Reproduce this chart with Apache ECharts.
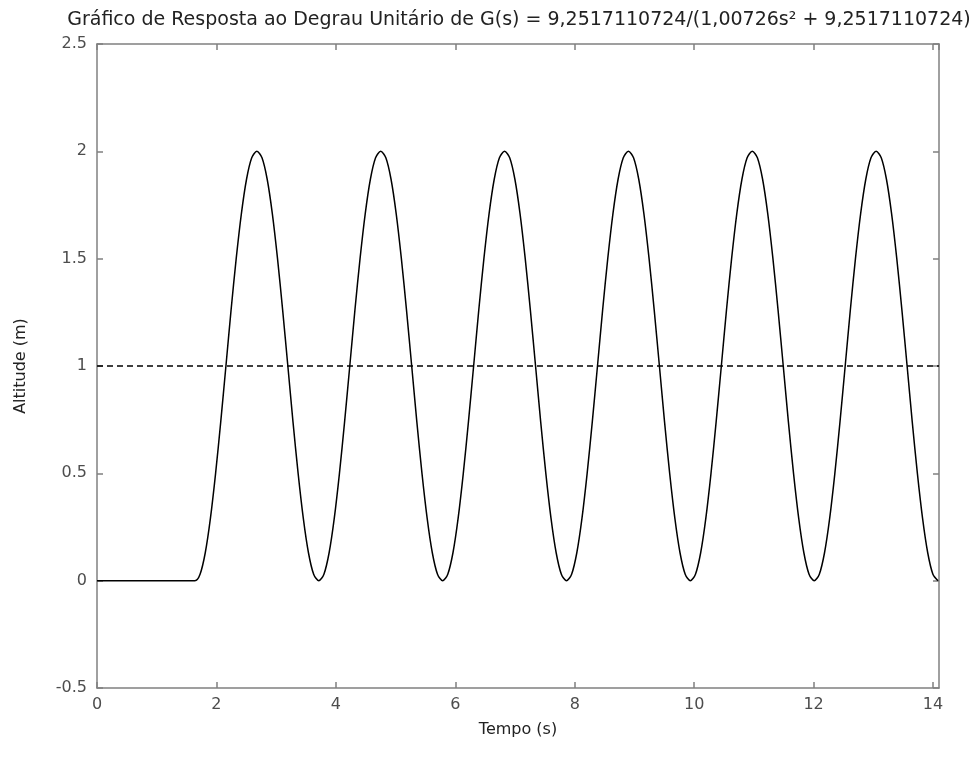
<!DOCTYPE html>
<html>
<head>
<meta charset="utf-8">
<script src="https://cdn.jsdelivr.net/npm/echarts@6/dist/echarts.min.js"></script>
<style>
html, body { margin: 0; padding: 0; background: #fff; }
#chart { width: 975px; height: 759px; }
</style>
</head>
<body>
<div id="chart"></div>
<script>
// tempo (s)
var tempo = [0,
    1.640, 1.726, 1.813, 1.899, 1.986, 2.072, 2.159, 2.245, 2.331, 2.418, 2.504, 2.591,
    2.677, 2.763, 2.850, 2.936, 3.023, 3.109, 3.196, 3.282, 3.368, 3.455, 3.541, 3.628,
    3.714, 3.800, 3.887, 3.973, 4.060, 4.146, 4.233, 4.319, 4.405, 4.492, 4.578, 4.665,
    4.751, 4.837, 4.924, 5.010, 5.097, 5.183, 5.270, 5.356, 5.442, 5.529, 5.615, 5.702,
    5.788, 5.874, 5.961, 6.047, 6.134, 6.220, 6.307, 6.393, 6.479, 6.566, 6.652, 6.739,
    6.825, 6.911, 6.998, 7.084, 7.171, 7.257, 7.344, 7.430, 7.516, 7.603, 7.689, 7.776,
    7.862, 7.948, 8.035, 8.121, 8.208, 8.294, 8.381, 8.467, 8.553, 8.640, 8.726, 8.813,
    8.899, 8.985, 9.072, 9.158, 9.245, 9.331, 9.418, 9.504, 9.590, 9.677, 9.763, 9.850,
    9.936, 10.022, 10.109, 10.195, 10.282, 10.368, 10.455, 10.541, 10.627, 10.714, 10.800, 10.887,
    10.973, 11.059, 11.146, 11.232, 11.319, 11.405, 11.492, 11.578, 11.664, 11.751, 11.837, 11.924,
    12.010, 12.096, 12.183, 12.269, 12.356, 12.442, 12.529, 12.615, 12.701, 12.788, 12.874, 12.961,
    13.047, 13.133, 13.220, 13.306, 13.393, 13.479, 13.566, 13.652, 13.738, 13.825, 13.911, 13.998,
    14.084];
// altitude (m)
var altitude = [0,
    0, 0.03, 0.13, 0.29, 0.5, 0.74, 1, 1.26, 1.5, 1.71, 1.87, 1.97,
    2, 1.97, 1.87, 1.71, 1.5, 1.26, 1, 0.74, 0.5, 0.29, 0.13, 0.03,
    0, 0.03, 0.13, 0.29, 0.5, 0.74, 1, 1.26, 1.5, 1.71, 1.87, 1.97,
    2, 1.97, 1.87, 1.71, 1.5, 1.26, 1, 0.74, 0.5, 0.29, 0.13, 0.03,
    0, 0.03, 0.13, 0.29, 0.5, 0.74, 1, 1.26, 1.5, 1.71, 1.87, 1.97,
    2, 1.97, 1.87, 1.71, 1.5, 1.26, 1, 0.74, 0.5, 0.29, 0.13, 0.03,
    0, 0.03, 0.13, 0.29, 0.5, 0.74, 1, 1.26, 1.5, 1.71, 1.87, 1.97,
    2, 1.97, 1.87, 1.71, 1.5, 1.26, 1, 0.74, 0.5, 0.29, 0.13, 0.03,
    0, 0.03, 0.13, 0.29, 0.5, 0.74, 1, 1.26, 1.5, 1.71, 1.87, 1.97,
    2, 1.97, 1.87, 1.71, 1.5, 1.26, 1, 0.74, 0.5, 0.29, 0.13, 0.03,
    0, 0.03, 0.13, 0.29, 0.5, 0.74, 1, 1.26, 1.5, 1.71, 1.87, 1.97,
    2, 1.97, 1.87, 1.71, 1.5, 1.26, 1, 0.74, 0.5, 0.29, 0.13, 0.03,
    0];
// referencia (degrau unitario)
var refTempo = [0, 14.1];
var refValor = [1, 1];

var xTicks = [0, 2, 4, 6, 8, 10, 12, 14];
var yTicks = [-0.5, 0, 0.5, 1, 1.5, 2, 2.5];

var chart = echarts.init(document.getElementById('chart'));

var resposta = tempo.map(function (t, i) { return [t, altitude[i]]; });
var referencia = refTempo.map(function (t, i) { return [t, refValor[i]]; });

var axisGray = '#808080';
var labelGray = '#4d4d4d';
var fontFam = '"DejaVu Sans", Verdana, sans-serif';

function eixoX(pos, show) {
    return {
        type: 'value', position: pos, min: 0, max: 14.1, interval: 2,
        axisLine: { show: true, onZero: false, lineStyle: { color: axisGray, width: 1.5 } },
        axisTick: { show: true, inside: true, length: 6, lineStyle: { color: axisGray, width: 1.5 } },
        axisLabel: { show: show, color: labelGray, fontSize: 16, fontFamily: fontFam, margin: 9, showMaxLabel: false,
            formatter: function (v) { return xTicks.indexOf(v) >= 0 ? String(v) : ''; } },
        splitLine: { show: false },
        name: show ? 'Tempo (s)' : '', nameLocation: 'middle', nameGap: 34,
        nameTextStyle: { color: '#222', fontSize: 16, fontFamily: fontFam }
    };
}
function eixoY(pos, show) {
    return {
        type: 'value', position: pos, min: -0.5, max: 2.5, interval: 0.5,
        axisLine: { show: true, onZero: false, lineStyle: { color: axisGray, width: 1.5 } },
        axisTick: { show: true, inside: true, length: 6, lineStyle: { color: axisGray, width: 1.5 } },
        axisLabel: { show: show, color: labelGray, fontSize: 16, fontFamily: fontFam, margin: 10,
            formatter: function (v) { return yTicks.indexOf(v) >= 0 ? String(v) : ''; } },
        splitLine: { show: false },
        name: show ? 'Altitude (m)' : '', nameLocation: 'middle', nameGap: 68, nameRotate: 90,
        nameTextStyle: { color: '#222', fontSize: 16, fontFamily: fontFam }
    };
}

var option = {
    backgroundColor: '#fff',
    animation: false,
    title: {
        text: 'Gráfico de Resposta ao Degrau Unitário de G(s) = 9,2517110724/(1,00726s² + 9,2517110724)',
        left: 514, textAlign: 'center', top: 6,
        textStyle: { color: '#222', fontSize: 19, fontWeight: 'normal', fontFamily: fontFam }
    },
    grid: { left: 97, right: 36, top: 44, bottom: 71 },
    xAxis: [eixoX('bottom', true), eixoX('top', false)],
    yAxis: [eixoY('left', true), eixoY('right', false)],
    series: [
        {
            type: 'line', data: resposta, showSymbol: false, smooth: 0.3,
            lineStyle: { color: '#000', width: 1.5 }, z: 3
        },
        {
            type: 'line', data: referencia, showSymbol: false,
            lineStyle: { color: '#000', width: 1.5, type: [6, 4] }, z: 2
        }
    ]
};
chart.setOption(option);
</script>
</body>
</html>
